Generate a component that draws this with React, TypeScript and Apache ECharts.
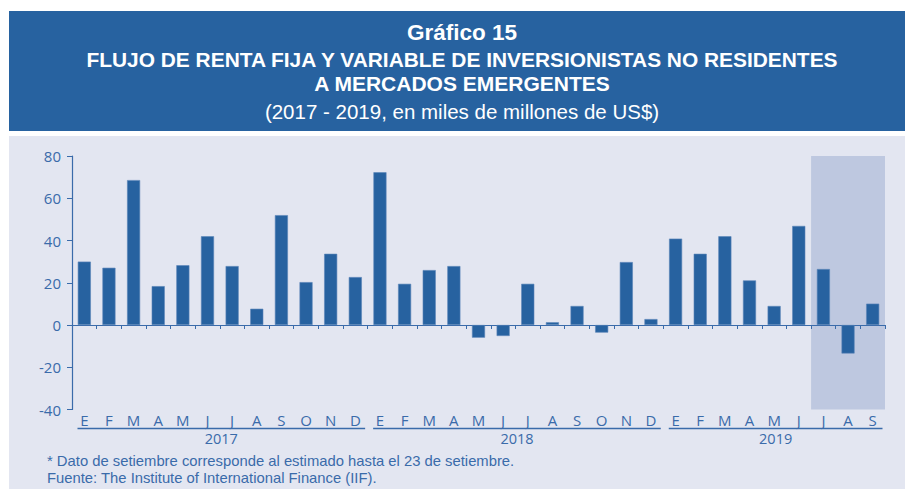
import React, { useEffect, useRef } from "react";
import * as echarts from "echarts";

const months = ["E","F","M","A","M","J","J","A","S","O","N","D","E","F","M","A","M","J","J","A","S","O","N","D","E","F","M","A","M","J","J","A","S"];
const flows = [30.0,27.1,68.6,18.4,28.3,42.0,27.9,7.7,52.0,20.3,33.7,22.7,72.3,19.5,26.0,27.9,-6.0,-5.2,19.5,1.3,9.0,-3.6,29.8,2.8,40.9,33.7,42.0,21.1,9.0,46.9,26.5,-13.5,10.1];
const years = ["2017","2018","2019"];
const yearSpans = [[0,11],[12,23],[24,32]];
const shadeSpan = [30, 32];
const yMin = -40, yMax = 80, yStep = 20;
const titleLines = ["Gráfico 15","FLUJO DE RENTA FIJA Y VARIABLE DE INVERSIONISTAS NO RESIDENTES","A MERCADOS EMERGENTES"];
const subtitle = "(2017 - 2019, en miles de millones de US$)";
const notes = ["* Dato de setiembre corresponde al estimado hasta el 23 de setiembre.","Fuente: The Institute of International Finance (IIF)."];

const BLUE = "#2762A0";
const TXT = "#3A6BAA";
const BG = "#E3E6F1";
const SHADE = "#BEC8E0";
const FONT = "'Liberation Sans', Arial, sans-serif";
const AXFONT = "'Open Sans', sans-serif";

export default function App() {
  const ref = useRef<HTMLDivElement>(null);
  useEffect(() => {
    const chart = echarts.init(ref.current!, undefined, { renderer: "svg" });
    const txt = (x: number, y: number, text: string, font: string, fill: string, align = "center", lh = 20) => ({
      type: "text", z: 10, x, y,
      style: { text, fill, font, align, verticalAlign: "middle", lineHeight: lh },
    });
    const baseGraphic: any[] = [
      { type: "rect", z: -10, shape: { x: 9, y: 11, width: 896, height: 120 }, style: { fill: BLUE } },
      { type: "rect", z: -10, shape: { x: 9, y: 136, width: 896, height: 353 }, style: { fill: BG } },
      txt(462, 32.5, titleLines[0], `bold 22.5px ${FONT}`, "#fff", "center", 22),
      txt(462, 59, titleLines[1], `bold 20.9px ${FONT}`, "#fff", "center", 21),
      txt(462, 83, titleLines[2], `bold 21px ${FONT}`, "#fff", "center", 21),
      txt(462, 111, subtitle, `20.5px ${FONT}`, "#fff", "center", 20),
      txt(47, 461, notes[0], `14.8px ${FONT}`, TXT, "left", 15),
      txt(47, 477.5, notes[1], `14.8px ${FONT}`, TXT, "left", 15),
    ];
    const option: any = {
      animation: false,
      backgroundColor: "#fff",
      grid: { left: 72, right: 20, top: 156, bottom: 79.5 },
      xAxis: [
        {
          type: "category", data: months, boundaryGap: true,
          axisLine: { onZero: true, lineStyle: { color: TXT, width: 1.2 } },
          axisTick: { show: true, interval: 0, length: 4, lineStyle: { color: TXT } },
          axisLabel: { show: false },
        },
        {
          type: "category", data: months, position: "bottom", boundaryGap: true,
          axisLine: { show: false }, axisTick: { show: false },
          axisLabel: { show: true, interval: 0, color: TXT, fontFamily: AXFONT, fontSize: 15, margin: 3 },
        },
      ],
      yAxis: {
        type: "value", min: yMin, max: yMax, interval: yStep,
        splitLine: { show: false },
        axisLine: { show: true, lineStyle: { color: TXT, width: 1.2 } },
        axisTick: { show: true, length: 5, lineStyle: { color: TXT } },
        axisLabel: { color: TXT, fontFamily: AXFONT, fontSize: 15, margin: 11 },
      },
      series: [
        { type: "bar", xAxisIndex: 0, data: flows, barWidth: "53%", itemStyle: { color: BLUE, borderColor: "#5A84B8", borderWidth: 0.6 }, z: 3 },
      ],
      graphic: baseGraphic,
    };
    chart.setOption(option);
    const px = (i: number) => chart.convertToPixel({ xAxisIndex: 0 }, i) as number;
    const py = (v: number) => chart.convertToPixel({ yAxisIndex: 0 }, v) as number;
    const band = px(1) - px(0);
    const extra: any[] = [];
    const sx1 = px(shadeSpan[0]) - band / 2;
    const sx2 = px(shadeSpan[1]) + band / 2;
    extra.push({ type: "rect", z: -5, shape: { x: sx1, y: py(yMax), width: sx2 - sx1, height: py(yMin) - py(yMax) }, style: { fill: SHADE } });
    yearSpans.forEach(([a, b], k) => {
      const x1 = px(a) - band / 2 + 5.5;
      const x2 = px(b) + band / 2 - 2.5;
      extra.push({ type: "line", z: 10, shape: { x1, y1: 428.5, x2, y2: 428.5 }, style: { stroke: TXT, lineWidth: 1.3 } });
      extra.push(txt((x1 + x2) / 2, 438.5, years[k], `14.5px ${AXFONT}`, TXT, "center", 14));
    });
    chart.setOption({ graphic: [...baseGraphic, ...extra] });
    return () => chart.dispose();
  }, []);
  return <div ref={ref} style={{ position: "fixed", left: 0, top: 0, width: 905, height: 489 }} />;
}
